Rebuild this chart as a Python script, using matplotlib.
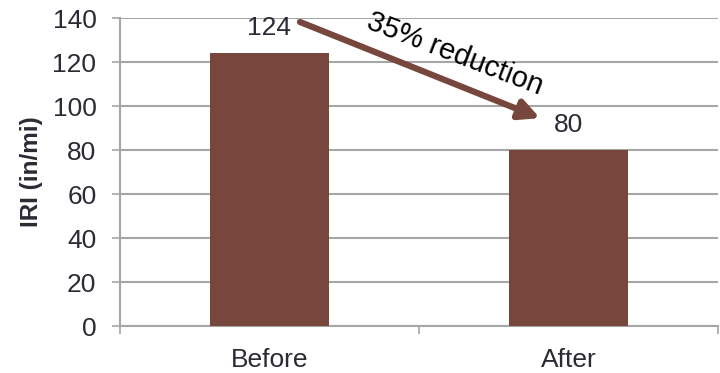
import matplotlib.pyplot as plt

plt.rcParams['font.family'] = ['Liberation Sans', 'DejaVu Sans']

categories = ["Before", "After"]
iri_values = [124, 80]
yticks = [0, 20, 40, 60, 80, 100, 120, 140]

bar_color = "#77463C"
grid_color = "#A6A6A6"
text_color = "#2B2B35"

fig = plt.figure(figsize=(7.2, 3.73), dpi=100)
ax = fig.add_axes([0.1667, 0.126, 0.8303, 0.8257])

x = range(len(categories))
ax.bar(x, iri_values, width=0.4, color=bar_color, zorder=3)

for i, v in zip(x, iri_values):
    ax.annotate(str(v), (i, v), xytext=(0, 18), textcoords="offset points",
                ha="center", va="center", fontsize=19, color=text_color)

ax.set_xlim(-0.5, len(categories) - 0.5)
ax.set_ylim(0, 140)
ax.set_yticks(yticks)
ax.set_xticks(x)
ax.set_xticklabels(categories)
ax.set_xticks([-0.5, 0.5, 1.5], minor=True)
ax.tick_params(axis="x", which="major", length=0, pad=16, labelsize=19, labelcolor=text_color)
ax.tick_params(axis="x", which="minor", length=6, width=1.2, color=grid_color)
ax.tick_params(axis="y", length=6, width=1.2, color=grid_color, labelsize=19,
               labelcolor=text_color, pad=11)

ax.grid(axis="y", color=grid_color, linewidth=1.5, zorder=0)
for side in ["top", "right"]:
    ax.spines[side].set_visible(False)
for side in ["left", "bottom"]:
    ax.spines[side].set_color(grid_color)
    ax.spines[side].set_linewidth(1.5)

ax.set_ylabel("IRI (in/mi)", fontsize=17.5, fontweight="bold", color=text_color, labelpad=7)

# arrow showing the drop between the two bars
ax.annotate("", xy=(0.905, 94.5), xytext=(0.102, 138.2),
            arrowprops=dict(arrowstyle="-|>", color=bar_color, lw=4.5,
                            mutation_scale=30, shrinkA=0, shrinkB=0),
            zorder=4)
ax.text(0.62, 123.5, "35% reduction", rotation=-21, ha="center", va="center",
        fontsize=21, color="black", rotation_mode="anchor")

fig.savefig("out.png", dpi=100)
